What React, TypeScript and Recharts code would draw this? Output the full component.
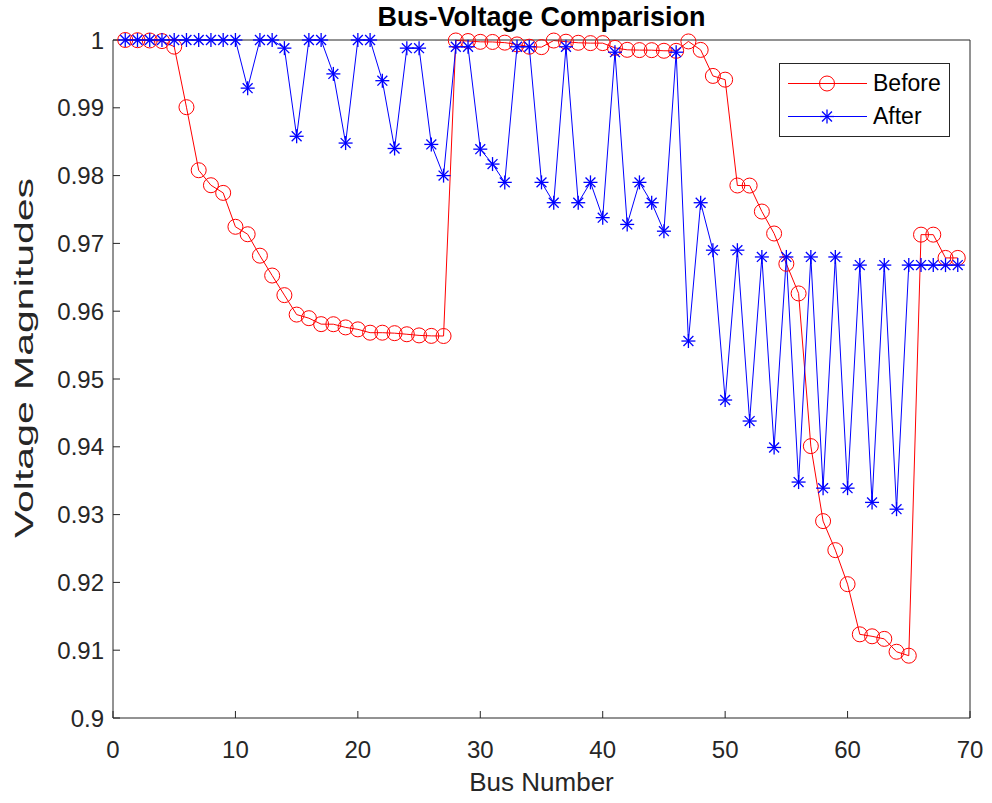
import { Label, Legend, Line, LineChart, XAxis, YAxis } from "recharts";

const FONT = "'Liberation Sans', Arial, Helvetica, sans-serif";
const AXIS_COLOR = "#262626";

const busNumbers = [
  1, 2, 3, 4, 5, 6, 7, 8, 9, 10, 11, 12, 13, 14, 15, 16, 17, 18, 19, 20, 21, 22, 23,
  24, 25, 26, 27, 28, 29, 30, 31, 32, 33, 34, 35, 36, 37, 38, 39, 40, 41, 42, 43, 44,
  45, 46, 47, 48, 49, 50, 51, 52, 53, 54, 55, 56, 57, 58, 59, 60, 61, 62, 63, 64, 65,
  66, 67, 68, 69,
];

// voltage magnitudes before reconfiguration
const beforeValues = [
  1.0, 0.99997, 0.99993, 0.99984, 0.99902, 0.99009, 0.98079, 0.97858, 0.97745, 0.97245,
  0.97135, 0.96819, 0.96526, 0.96237, 0.9595, 0.95897, 0.95809, 0.95808, 0.95761, 0.95732,
  0.95683, 0.95683, 0.95676, 0.9566, 0.95643, 0.95636, 0.95634, 0.99993, 0.99985, 0.99973,
  0.99971, 0.99961, 0.99935, 0.99901, 0.99895, 0.99992, 0.99975, 0.99959, 0.99954, 0.99954,
  0.99884, 0.99855, 0.99851, 0.9985, 0.99841, 0.9984, 0.99979, 0.99854, 0.9947, 0.99415,
  0.97854, 0.97853, 0.9747, 0.97146, 0.96699, 0.96262, 0.9401, 0.92904, 0.92476, 0.91974,
  0.91234, 0.91205, 0.91167, 0.90977, 0.90919, 0.97129, 0.97129, 0.96786, 0.96786,
];

// voltage magnitudes after
const afterValues = [
  1.0, 1.0, 1.0, 1.0, 1.0, 1.0, 1.0, 1.0, 1.0, 1.0, 0.9929, 1.0, 1.0, 0.9988, 0.9858, 1.0,
  1.0, 0.995, 0.9848, 1.0, 1.0, 0.994, 0.984, 0.9988, 0.9988, 0.9846, 0.98, 0.999, 0.999,
  0.9839, 0.9817, 0.979, 0.999, 0.999, 0.979, 0.976, 0.999, 0.976, 0.979, 0.9738, 0.9982,
  0.9728, 0.979, 0.976, 0.9718, 0.9982, 0.9556, 0.976, 0.969, 0.9469, 0.969, 0.9438, 0.968,
  0.9399, 0.968, 0.9348, 0.968, 0.9339, 0.968, 0.9339, 0.9668, 0.9318, 0.9668, 0.9308,
  0.9668, 0.9668, 0.9668, 0.9668, 0.9668,
];

const xTicks = [0, 10, 20, 30, 40, 50, 60, 70];
const yTicks = [0.9, 0.91, 0.92, 0.93, 0.94, 0.95, 0.96, 0.97, 0.98, 0.99, 1];

const data = busNumbers.map((bus, i) => ({
  bus,
  before: beforeValues[i],
  after: afterValues[i],
}));

function CircleMark({ cx, cy }: { cx: number; cy: number }) {
  return <circle cx={cx} cy={cy} r={7.5} fill="none" stroke="#ff0000" strokeWidth={1} />;
}

function StarMark({ cx, cy }: { cx: number; cy: number }) {
  const r = 7;
  const d = r * 0.7071;
  return (
    <g stroke="#0000ff" strokeWidth={1.3}>
      <line x1={cx - r} y1={cy} x2={cx + r} y2={cy} />
      <line x1={cx} y1={cy - r} x2={cx} y2={cy + r} />
      <line x1={cx - d} y1={cy - d} x2={cx + d} y2={cy + d} />
      <line x1={cx - d} y1={cy + d} x2={cx + d} y2={cy - d} />
    </g>
  );
}

const legendItems = [
  { name: "Before", color: "#ff0000", Mark: CircleMark },
  { name: "After", color: "#0000ff", Mark: StarMark },
];

function LegendBox() {
  return (
    <div
      style={{
        width: 169,
        height: 69,
        border: `1px solid ${AXIS_COLOR}`,
        background: "#fff",
        fontFamily: FONT,
        fontSize: 23,
        color: "#000",
        paddingTop: 3,
        boxSizing: "content-box",
      }}
    >
      {legendItems.map(({ name, color, Mark }) => (
        <div key={name} style={{ display: "flex", alignItems: "center", height: 33 }}>
          <svg width={93} height={33} style={{ flex: "none" }}>
            <line x1={8} y1={16.5} x2={87} y2={16.5} stroke={color} strokeWidth={1} />
            <Mark cx={47} cy={16.5} />
          </svg>
          <span>{name}</span>
        </div>
      ))}
    </div>
  );
}

// the y label in the picture is drawn stretched along its direction
function YLabel() {
  const cx = 24;
  const cy = 358;
  return (
    <text
      x={cx}
      y={cy}
      transform={`rotate(-90 ${cx} ${cy})`}
      textAnchor="middle"
      dominantBaseline="central"
      textLength={360}
      lengthAdjust="spacingAndGlyphs"
      fill={AXIS_COLOR}
      fontSize={26}
      fontFamily={FONT}
    >
      Voltage Magnitudes
    </text>
  );
}

const tickStyle = { fill: AXIS_COLOR, fontSize: 24, fontFamily: FONT };

export default function App() {
  return (
    <div style={{ position: "absolute", left: 0, top: 0, width: 992, height: 803, background: "#fff" }}>
      <LineChart width={992} height={803} data={data} margin={{ top: 39, right: 21, bottom: 0, left: 0 }}>
        <XAxis
          xAxisId="bottom"
          dataKey="bus"
          type="number"
          domain={[0, 70]}
          ticks={xTicks}
          height={85}
          stroke={AXIS_COLOR}
          tickSize={-7}
          tickMargin={30}
          tick={tickStyle}
        >
          <Label
            value="Bus Number"
            position="insideBottom"
            offset={12}
            style={{ fill: AXIS_COLOR, fontSize: 26, fontFamily: FONT }}
          />
        </XAxis>
        <XAxis
          xAxisId="top"
          orientation="top"
          dataKey="bus"
          type="number"
          domain={[0, 70]}
          ticks={xTicks}
          height={1}
          stroke={AXIS_COLOR}
          tickSize={-7}
          tick={false}
        >
          <Label
            value="Bus-Voltage Comparision"
            position="top"
            offset={13}
            style={{ fill: "#000", fontSize: 27, fontWeight: "bold", fontFamily: FONT }}
          />
        </XAxis>
        <YAxis
          yAxisId="left"
          type="number"
          domain={[0.9, 1]}
          ticks={yTicks}
          width={113}
          stroke={AXIS_COLOR}
          tickSize={-7}
          tickMargin={16}
          tick={tickStyle}
          tickFormatter={(v) => String(Number(Number(v).toFixed(2)))}
        >
          <Label content={() => <YLabel />} />
        </YAxis>
        <YAxis
          yAxisId="right"
          orientation="right"
          type="number"
          domain={[0.9, 1]}
          ticks={yTicks}
          width={1}
          stroke={AXIS_COLOR}
          tickSize={-7}
          tick={false}
        />
        <Legend
          layout="vertical"
          align="center"
          verticalAlign="middle"
          content={() => <LegendBox />}
          wrapperStyle={{ left: 779, top: 63, width: 171, height: 72 }}
        />
        <Line
          xAxisId="bottom"
          yAxisId="left"
          dataKey="before"
          name="Before"
          stroke="#ff0000"
          strokeWidth={1}
          isAnimationActive={false}
          dot={(p: any) => <CircleMark key={`c-${p.index}`} cx={p.cx} cy={p.cy} />}
          activeDot={false}
        />
        <Line
          xAxisId="bottom"
          yAxisId="left"
          dataKey="after"
          name="After"
          stroke="#0000ff"
          strokeWidth={1}
          isAnimationActive={false}
          dot={(p: any) => <StarMark key={`s-${p.index}`} cx={p.cx} cy={p.cy} />}
          activeDot={false}
        />
      </LineChart>
    </div>
  );
}
